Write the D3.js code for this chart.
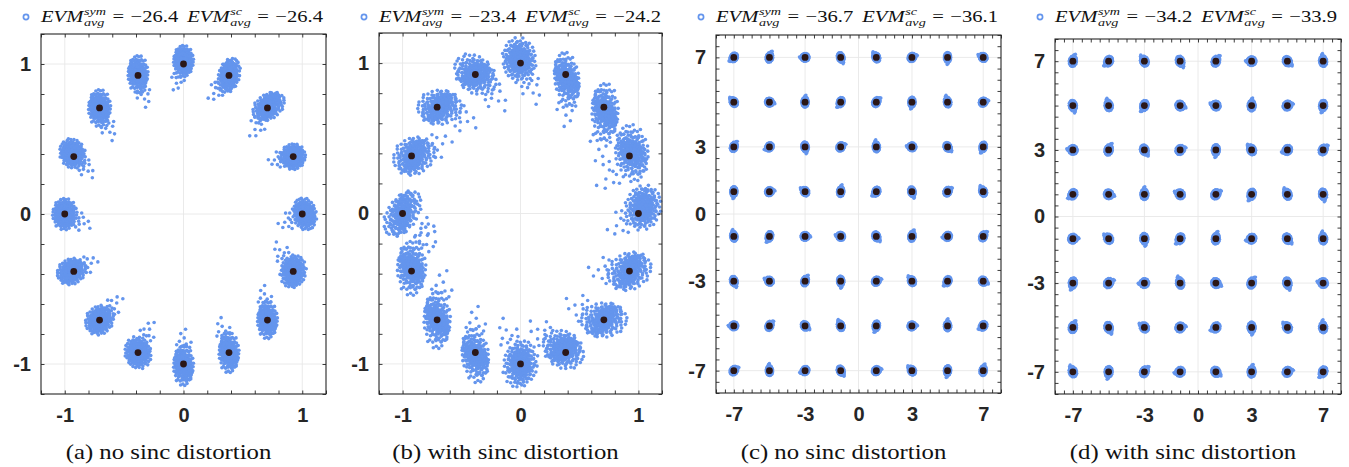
<!DOCTYPE html>
<html>
<head>
<meta charset="utf-8">
<script src="https://cdn.jsdelivr.net/npm/d3@7"></script>
<style>
body { margin: 0; background: #fff; }
svg { display: block; }
</style>
</head>
<body>
<div id="graphicContainer"></div>
<script>

// ideal 16-PSK points (in-phase / quadrature)
var pskI = [1, 0.924, 0.707, 0.383, 0, -0.383, -0.707, -0.924, -1, -0.924, -0.707, -0.383, 0, 0.383, 0.707, 0.924];
var pskQ = [0, 0.383, 0.707, 0.924, 1, 0.924, 0.707, 0.383, 0, -0.383, -0.707, -0.924, -1, -0.924, -0.707, -0.383];

// ideal 64-QAM levels
var qamLevels = [-7, -5, -3, -1, 1, 3, 5, 7];

// received cloud per PSK symbol: [dx, dy, spreadX, spreadY, tilt deg, tail direction deg]
var cloudA = [
	[0.02, 0.00, 0.12, 0.10, -60, 200],
	[0.00, 0.00, 0.11, 0.09, 0, 190],
	[0.01, 0.01, 0.15, 0.09, 20, 235],
	[0.00, 0.00, 0.13, 0.09, 60, 225],
	[0.00, 0.02, 0.09, 0.11, 0, 250],
	[0.00, 0.01, 0.09, 0.13, 0, 290],
	[0.00, 0.00, 0.10, 0.13, 0, 300],
	[-0.01, 0.02, 0.12, 0.10, -30, 320],
	[0.00, 0.00, 0.11, 0.11, 0, 340],
	[-0.02, 0.00, 0.13, 0.09, 10, 20],
	[0.00, 0.00, 0.13, 0.10, 15, 40],
	[0.00, 0.00, 0.11, 0.12, 60, 60],
	[0.00, -0.01, 0.09, 0.14, 0, 90],
	[0.00, 0.00, 0.09, 0.14, 0, 110],
	[0.00, 0.00, 0.09, 0.13, 0, 100],
	[0.00, 0.00, 0.11, 0.12, -40, 130]
];

var cloudB = [
	[0.04, 0.04, 0.17, 0.15, 30, 210],
	[0.02, 0.02, 0.15, 0.20, 10, 220],
	[0.01, -0.03, 0.12, 0.20, 0, 260],
	[0.01, -0.03, 0.11, 0.19, 10, 270],
	[-0.01, 0.02, 0.15, 0.16, 30, 300],
	[0.00, 0.00, 0.20, 0.13, -25, 320],
	[0.02, 0.00, 0.20, 0.12, 0, 340],
	[0.02, 0.00, 0.19, 0.13, 10, 20],
	[0.00, 0.00, 0.20, 0.12, 40, 330],
	[0.00, 0.02, 0.13, 0.19, 0, 60],
	[0.00, 0.00, 0.12, 0.20, 0, 80],
	[0.00, -0.02, 0.12, 0.19, 10, 90],
	[0.00, 0.00, 0.15, 0.17, -30, 120],
	[-0.02, 0.02, 0.19, 0.13, -20, 150],
	[0.00, 0.00, 0.21, 0.12, 0, 160],
	[0.00, 0.00, 0.20, 0.13, 10, 180]
];

// QAM cloud size per panel [spreadX, spreadY] and per-symbol tilt (deg)
var qamSpreadC = [0.24, 0.19];
var qamSpreadD = [0.26, 0.21];

var tiltC = [30, 95, 200, 310, 15, 140, 260, 75,
	180, 45, 330, 120, 250, 5, 90, 210,
	300, 160, 60, 275, 20, 135, 225, 340,
	105, 240, 0, 170, 315, 70, 190, 45,
	265, 10, 150, 80, 220, 295, 35, 125,
	55, 205, 285, 25, 100, 175, 320, 245,
	140, 350, 85, 230, 40, 260, 110, 15,
	215, 65, 180, 300, 130, 20, 270, 160];

var tiltD = [120, 260, 45, 190, 330, 80, 15, 230,
	65, 300, 150, 10, 205, 275, 140, 95,
	250, 25, 185, 115, 340, 55, 295, 170,
	5, 145, 280, 225, 75, 195, 320, 100,
	215, 350, 90, 160, 30, 240, 125, 285,
	175, 60, 310, 20, 265, 135, 200, 40,
	290, 110, 235, 345, 165, 85, 15, 255,
	70, 220, 130, 305, 50, 180, 325, 100];

// EVM values in legend and captions
var evmSym = [-26.4, -23.4, -36.7, -34.2];
var evmSc = [-26.4, -24.2, -36.1, -33.9];
var captions = ["(a) no sinc distortion", "(b) with sinc distortion", "(c) no sinc distortion", "(d) with sinc distortion"];

// tick labels
var pskTicks = [-1, 0, 1];
var qamTicks = [-7, -3, 0, 3, 7];

// normalised noise pattern for one cluster (core) and its stragglers (tail, along +x)
var core = [
	[-0.27,-0.93],[-0.06,-0.88],[0.12,-0.95],[0.33,-0.86],
	[-0.66,-0.72],[-0.52,-0.67],[-0.31,-0.74],[-0.08,-0.69],[0.09,-0.66],[0.28,-0.73],[0.53,-0.68],[0.68,-0.64],
	[-0.73,-0.48],[-0.47,-0.53],[-0.32,-0.46],[-0.12,-0.51],[0.07,-0.47],[0.31,-0.54],[0.48,-0.49],[0.72,-0.45],
	[-0.88,-0.27],[-0.71,-0.33],[-0.52,-0.28],[-0.27,-0.31],[-0.11,-0.26],[0.13,-0.32],[0.29,-0.27],[0.52,-0.34],[0.69,-0.29],[0.87,-0.25],
	[-0.92,-0.08],[-0.68,-0.12],[-0.49,-0.06],[-0.31,-0.13],[-0.08,-0.09],[0.11,-0.07],[0.32,-0.12],[0.47,-0.08],[0.71,-0.11],[0.90,-0.06],
	[-0.89,0.12],[-0.72,0.07],[-0.48,0.13],[-0.29,0.08],[-0.12,0.11],[0.08,0.14],[0.28,0.09],[0.53,0.12],[0.68,0.07],[0.93,0.11],
	[-0.87,0.28],[-0.70,0.33],[-0.53,0.27],[-0.28,0.32],[-0.09,0.29],[0.12,0.27],[0.31,0.33],[0.49,0.28],[0.72,0.31],[0.86,0.34],
	[-0.69,0.53],[-0.51,0.47],[-0.29,0.52],[-0.11,0.48],[0.09,0.53],[0.27,0.49],[0.52,0.51],[0.70,0.46],
	[-0.67,0.68],[-0.49,0.73],[-0.32,0.67],[-0.07,0.71],[0.11,0.69],[0.32,0.72],[0.47,0.66],[0.66,0.70],
	[-0.31,0.87],[-0.09,0.93],[0.08,0.88],[0.29,0.91],
	[0.00,0.00],[0.20,0.20],[-0.20,-0.20],[0.20,-0.20],[-0.20,0.20],[0.40,0.00],[-0.40,0.00],[0.00,0.40],[0.00,-0.40]
];

var tail = [[1.10,0.15],[1.25,-0.20],[1.05,-0.45],[1.40,0.30],[1.60,-0.05],[1.20,0.50],[1.85,0.20],[1.35,-0.55],[2.10,-0.15],[1.15,-0.05]];

var blue = "#6495ed";
var dark = "#2b1717";
var ink = "#262626";

// plot boxes [left, top, right, bottom] in px
var boxes = [[41, 34, 326, 394], [379, 33, 662, 394], [716, 35, 1001, 393], [1055, 39, 1341, 394]];

function cloudPoints(cx, cy, p, tailScale) {
	var pts = [];
	var r = p[4] * Math.PI / 180, t = p[5] * Math.PI / 180;
	var s = (p[2] + p[3]) / 2 * tailScale;
	// the core pattern three times (full, 0.8, 0.55 size, turned a little) to fill the blob
	[1, 0.8, 0.55].forEach(function(f, j) {
		var rr = r + j * 0.4;
		core.forEach(function(c) {
			var u = c[0] * p[2] * f, v = c[1] * p[3] * f;
			pts.push([cx + p[0] + u * Math.cos(rr) - v * Math.sin(rr), cy + p[1] + u * Math.sin(rr) + v * Math.cos(rr)]);
		});
	});
	tail.forEach(function(c) {
		var u = c[0] * s, v = c[1] * s;
		pts.push([cx + p[0] + u * Math.cos(t) - v * Math.sin(t), cy + p[1] + u * Math.sin(t) + v * Math.cos(t)]);
	});
	return pts;
}

function buildPanel(k) {
	var ideal = [], clouds = [];
	if (k < 2) {
		var cl = k == 0 ? cloudA : cloudB;
		pskI.forEach(function(d, i) {
			ideal.push([pskI[i], pskQ[i]]);
			clouds = clouds.concat(cloudPoints(pskI[i], pskQ[i], cl[i], 1));
		});
	} else {
		var sp = k == 2 ? qamSpreadC : qamSpreadD;
		var tl = k == 2 ? tiltC : tiltD;
		qamLevels.forEach(function(q, row) {
			qamLevels.forEach(function(iv, col) {
				var n = row * 8 + col;
				ideal.push([iv, q]);
				clouds = clouds.concat(cloudPoints(iv, q, [0, 0, sp[0], sp[1], tl[n], tl[n]], 0.7));
			});
		});
	}
	return {ideal: ideal, clouds: clouds};
}

var svg = d3.select("#graphicContainer").append("svg")
	.attr("width", 1349)
	.attr("height", 467);

function draw_panel(k) {

	var b = boxes[k];
	var lim = k < 2 ? 1.2 : 8;
	var minorStep = k < 2 ? 0.2 : 0.5;
	var majors = k < 2 ? pskTicks : qamTicks;
	var minors = d3.range(-lim, lim + minorStep / 2, minorStep).map(d => Math.round(d * 100) / 100);

	var x = d3.scaleLinear().domain([-lim, lim]).range([b[0], b[2]]);
	var y = d3.scaleLinear().domain([-lim, lim]).range([b[3], b[1]]);

	var g = svg.append("g");

	// grid at labelled ticks
	g.append("g").selectAll("line")
		.data(majors).enter().append("line")
		.attr("x1", d => x(d)).attr("x2", d => x(d))
		.attr("y1", b[1]).attr("y2", b[3])
		.attr("stroke", "#e8e8e8").attr("stroke-width", 0.9);
	g.append("g").selectAll("line")
		.data(majors).enter().append("line")
		.attr("y1", d => y(d)).attr("y2", d => y(d))
		.attr("x1", b[0]).attr("x2", b[2])
		.attr("stroke", "#e8e8e8").attr("stroke-width", 0.9);

	var data = buildPanel(k);

	g.append("g").selectAll("circle")
		.data(data.clouds).enter().append("circle")
		.attr("cx", d => x(d[0])).attr("cy", d => y(d[1]))
		.attr("r", k < 2 ? 1.8 : 1.7)
		.attr("fill", blue);

	g.append("g").selectAll("circle")
		.data(data.ideal).enter().append("circle")
		.attr("cx", d => x(d[0])).attr("cy", d => y(d[1]))
		.attr("r", 3.4)
		.attr("fill", dark);

	// inward ticks on all four sides
	var tk = 3.5;
	g.append("g").attr("transform", `translate(0,${b[3]})`)
		.call(d3.axisBottom(x).tickValues(minors).tickSize(-tk).tickFormat(""));
	g.append("g").attr("transform", `translate(0,${b[1]})`)
		.call(d3.axisTop(x).tickValues(minors).tickSize(-tk).tickFormat(""));
	g.append("g").attr("transform", `translate(${b[0]},0)`)
		.call(d3.axisLeft(y).tickValues(minors).tickSize(-tk).tickFormat(""));
	g.append("g").attr("transform", `translate(${b[2]},0)`)
		.call(d3.axisRight(y).tickValues(minors).tickSize(-tk).tickFormat(""));
	g.selectAll(".domain").remove();
	g.selectAll(".tick line").attr("stroke", ink).attr("stroke-width", 0.9);

	g.append("rect")
		.attr("x", b[0]).attr("y", b[1])
		.attr("width", b[2] - b[0]).attr("height", b[3] - b[1])
		.attr("fill", "none").attr("stroke", ink).attr("stroke-width", 1.1);

	// tick labels
	var xl = g.append("g").attr("transform", `translate(0,${b[3]})`)
		.call(d3.axisBottom(x).tickValues(majors).tickSize(0).tickPadding(14).tickFormat(d => String(d)));
	var yl = g.append("g").attr("transform", `translate(${b[0]},0)`)
		.call(d3.axisLeft(y).tickValues(majors).tickSize(0).tickPadding(10).tickFormat(d => String(d)));
	[xl, yl].forEach(function(a) {
		a.select(".domain").remove();
		a.selectAll("text")
			.attr("font-family", "Liberation Sans, Arial, sans-serif")
			.attr("font-weight", "bold")
			.attr("font-size", 20)
			.attr("fill", ink);
	});

	// legend with EVM values
	svg.append("circle")
		.attr("cx", b[0] - 15).attr("cy", 17).attr("r", 2.6)
		.attr("fill", "none").attr("stroke", blue).attr("stroke-width", 1.7);

	var lg = svg.append("g");
	var cx = 0;
	function piece(str, size, italic, dy) {
		var t = lg.append("text")
			.attr("x", cx).attr("y", dy)
			.attr("font-family", "Liberation Serif, serif")
			.attr("font-style", italic ? "italic" : "normal")
			.attr("font-size", size)
			.attr("fill", "#111")
			.text(str);
		return t.node().getComputedTextLength();
	}
	[["sym", evmSym[k]], ["sc", evmSc[k]]].forEach(function(e, j) {
		cx += piece("EVM", 16, true, 0) + 0.5;
		var w1 = piece(e[0], 11, true, -7);
		var w2 = piece("avg", 11, true, 4);
		cx += Math.max(w1, w2) + 5;
		cx += piece("=", 16, false, 0) + 5;
		cx += piece("\u2212" + Math.abs(e[1]).toFixed(1), 16, false, 0);
		if (j == 0) cx += 7;
	});
	lg.attr("transform", `translate(${b[0]},21.5) scale(${282 / cx},1)`);

	// caption
	var cap = svg.append("text")
		.attr("font-family", "Liberation Serif, serif")
		.attr("font-size", 21)
		.attr("fill", "#111")
		.attr("text-anchor", "middle")
		.text(captions[k]);
	cap.attr("transform", `translate(${(b[0] + b[2]) / 2 - 15},459) scale(1.18,1)`);
}

[0, 1, 2, 3].forEach(draw_panel);

</script>
</body>
</html>
